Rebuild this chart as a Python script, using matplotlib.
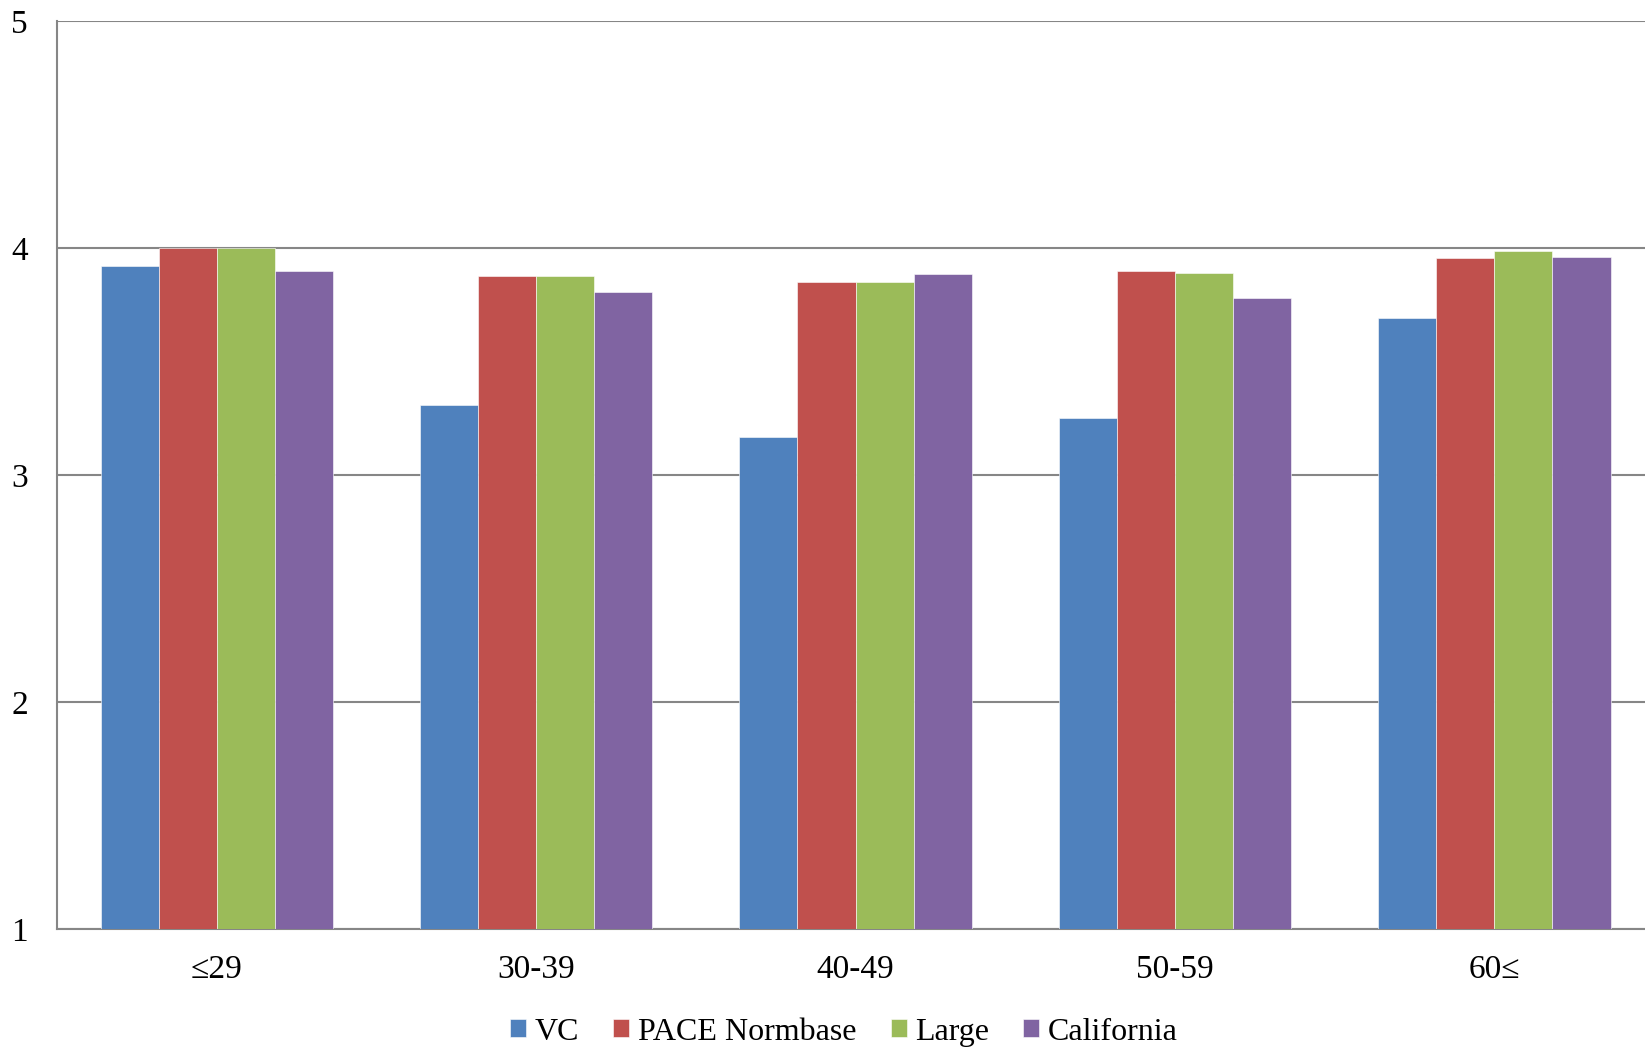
import matplotlib.pyplot as plt
import numpy as np

plt.rcParams['font.family'] = ['Liberation Serif', 'DejaVu Serif']

groups = ['≤29', '30-39', '40-49', '50-59', '60≤']
series = ['VC', 'PACE Normbase', 'Large', 'California']
vc = [3.92, 3.31, 3.17, 3.25, 3.69]
pace = [4.00, 3.875, 3.85, 3.90, 3.955]
large = [4.00, 3.875, 3.85, 3.89, 3.985]
california = [3.90, 3.805, 3.885, 3.78, 3.96]
colors = ['#4F81BD', '#C0504D', '#9BBB59', '#8064A2']

fig = plt.figure(figsize=(16.45, 10.49), dpi=100)
ax = fig.add_axes([0.0347, 0.114, 0.9708, 0.866])

x = np.arange(len(groups))
w = 0.182
for i, vals in enumerate([vc, pace, large, california]):
    ax.bar(x + (i - 1.5) * w, np.array(vals) - 1, w, bottom=1, color=colors[i],
           edgecolor='white', linewidth=0.4, label=series[i], zorder=3)

ax.set_xlim(-0.5, 4.5)
ax.set_ylim(1, 5)
ax.set_yticks([1, 2, 3, 4, 5])
ax.set_xticks(x)
ax.set_xticklabels(groups)
ax.grid(axis='y', color='#868686', linewidth=1.5, zorder=0)
ax.tick_params(length=0, labelsize=24)
ax.tick_params(axis='y', pad=21)
ax.tick_params(axis='x', pad=18)
for s in ['left', 'bottom']:
    ax.spines[s].set_color('#868686')
    ax.spines[s].set_linewidth(1.5)
ax.spines['top'].set_visible(False)
ax.spines['right'].set_visible(False)

ax.legend(loc='center', bbox_to_anchor=(0.513, 0.016), bbox_transform=fig.transFigure,
          ncol=4, frameon=False, fontsize=23, handlelength=0.5, handleheight=0.5,
          handletextpad=0.26, columnspacing=1.08)

plt.savefig('out.png')
